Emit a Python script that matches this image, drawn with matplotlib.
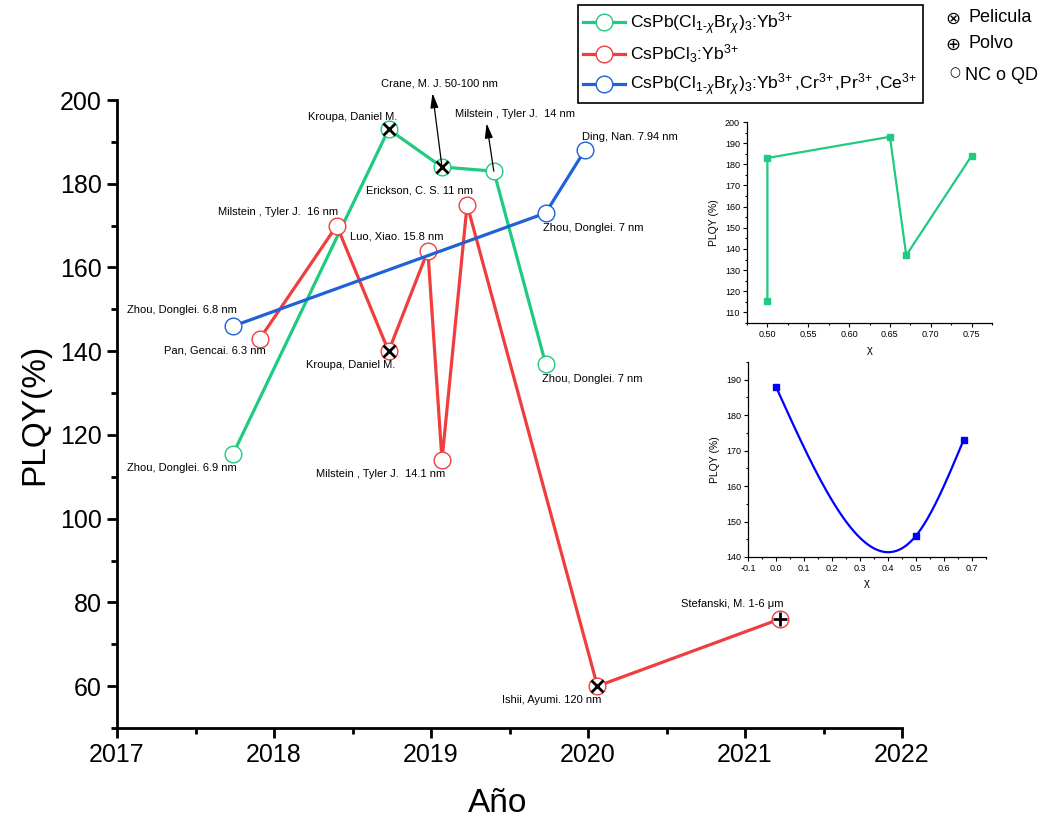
import numpy as np
import matplotlib
matplotlib.use('Agg')
import matplotlib.pyplot as plt
from matplotlib.ticker import MultipleLocator, FormatStrFormatter

plt.rcParams['font.family'] = ['Liberation Sans', 'DejaVu Sans']
plt.rcParams['mathtext.fontset'] = 'custom'
plt.rcParams['mathtext.rm'] = 'Liberation Sans'
plt.rcParams['mathtext.it'] = 'Liberation Sans:italic'
plt.rcParams['mathtext.bf'] = 'Liberation Sans:bold'

# CsPb(Cl1-xBrx)3:Yb3+
green_year = [2017.74, 2018.73, 2019.07, 2019.40, 2019.73]
green_plqy = [115.5, 193, 184, 183, 137]
green_chi = [0.50, 0.65, 0.75, 0.50, 0.67]
green_kind = ['nc', 'film', 'film', 'nc', 'nc']
green_notes = ['Zhou, Donglei. 6.9 nm', 'Kroupa, Daniel M.', 'Crane, M. J. 50-100 nm',
               'Milstein , Tyler J.  14 nm', 'Zhou, Donglei. 7 nm']

# CsPbCl3:Yb3+
red_year = [2017.91, 2018.40, 2018.73, 2018.98, 2019.07, 2019.23, 2020.06, 2021.22]
red_plqy = [143, 170, 140, 164, 114, 175, 60, 76]
red_kind = ['nc', 'nc', 'film', 'nc', 'nc', 'nc', 'film', 'powder']
red_notes = ['Pan, Gencai. 6.3 nm', 'Milstein , Tyler J.  16 nm', 'Kroupa, Daniel M.',
             'Luo, Xiao. 15.8 nm', 'Milstein , Tyler J.  14.1 nm', 'Erickson, C. S. 11 nm',
             'Ishii, Ayumi. 120 nm', 'Stefanski, M. 1-6 μm']

# CsPb(Cl1-xBrx)3:Yb3+,Cr3+,Pr3+,Ce3+
blue_year = [2017.74, 2019.73, 2019.98]
blue_plqy = [146, 173, 188]
blue_chi = [0.50, 0.67, 0.0]
blue_notes = ['Zhou, Donglei. 6.8 nm', 'Zhou, Donglei. 7 nm', 'Ding, Nan. 7.94 nm']

labels = [r'CsPb(Cl$_{1‐χ}$Br$_{χ}$)$_3$:Yb$^{3\!+}$',
          r'CsPbCl$_3$:Yb$^{3\!+}$',
          r'CsPb(Cl$_{1‐χ}$Br$_{χ}$)$_3$:Yb$^{3\!+}$,Cr$^{3\!+}$,Pr$^{3\!+}$,Ce$^{3\!+}$']

GREEN = '#1fcb80'
RED = '#f03e3e'
BLUE = '#1f62d6'

# label offsets in pixels (dx, dy) for each point
green_off = [(-51, -14), (-36, 12), (-3, 83), (21, 57), (47, -15)]
red_off = [(-45, -12), (-59, 14), (-38, -14), (-31, 14), (-61, -14), (-48, 14), (-46, -14), (-47, 15)]
blue_off = [(-51, 16), (48, -15), (45, 13)]
arrow_relpos = {2: 0.44, 3: 0.26}


def natural_spline(x, y, n=200):
    x = np.asarray(x, float)
    y = np.asarray(y, float)
    o = np.argsort(x)
    x, y = x[o], y[o]
    k = len(x)
    h = np.diff(x)
    A = np.zeros((k, k))
    r = np.zeros(k)
    A[0, 0] = A[-1, -1] = 1
    for i in range(1, k - 1):
        A[i, i - 1] = h[i - 1]
        A[i, i] = 2 * (h[i - 1] + h[i])
        A[i, i + 1] = h[i]
        r[i] = 6 * ((y[i + 1] - y[i]) / h[i] - (y[i] - y[i - 1]) / h[i - 1])
    M = np.linalg.solve(A, r)
    xs = np.linspace(x[0], x[-1], n)
    j = np.clip(np.searchsorted(x, xs) - 1, 0, k - 2)
    t0 = x[j + 1] - xs
    t1 = xs - x[j]
    hj = h[j]
    ys = (M[j] * t0**3 + M[j + 1] * t1**3) / (6 * hj) \
        + (y[j] / hj - M[j] * hj / 6) * t0 + (y[j + 1] / hj - M[j + 1] * hj / 6) * t1
    return xs, ys


fig = plt.figure(figsize=(10.46, 8.25), dpi=100)
ax = fig.add_axes([117 / 1046, 1 - 728 / 825, 785 / 1046, 628 / 825])

handles = []
for yr, pq, col in [(green_year, green_plqy, GREEN), (red_year, red_plqy, RED), (blue_year, blue_plqy, BLUE)]:
    h, = ax.plot(yr, pq, '-o', color=col, lw=2.3, ms=12, mfc='white', mec=col, mew=1.0, zorder=3)
    handles.append(h)

# film / powder symbols
for yr, pq, kinds in [(green_year, green_plqy, green_kind), (red_year, red_plqy, red_kind)]:
    for x, y, k in zip(yr, pq, kinds):
        if k == 'film':
            ax.plot(x, y, 'x', color='k', ms=8, mew=2.0, zorder=4)
        elif k == 'powder':
            ax.plot(x, y, '+', color='k', ms=10, mew=2.0, zorder=4)

for yr, pq, notes, offs in [(green_year, green_plqy, green_notes, green_off),
                            (red_year, red_plqy, red_notes, red_off),
                            (blue_year, blue_plqy, blue_notes, blue_off)]:
    for i, (x, y, t, o) in enumerate(zip(yr, pq, notes, offs)):
        ap = None
        if notes is green_notes and i in arrow_relpos:
            ap = dict(arrowstyle='<|-,head_length=1.1,head_width=0.3', color='k', lw=0.9,
                      relpos=(arrow_relpos[i], 0), shrinkA=1, shrinkB=0)
        ax.annotate(t, (x, y), xytext=o, textcoords='offset pixels', ha='center', va='center',
                    fontsize=8, arrowprops=ap, annotation_clip=False, zorder=5)

ax.set_xlim(2017, 2022)
ax.set_ylim(50, 200)
ax.xaxis.set_major_locator(MultipleLocator(1))
ax.xaxis.set_minor_locator(MultipleLocator(0.5))
ax.xaxis.set_major_formatter(FormatStrFormatter('%d'))
ax.yaxis.set_major_locator(MultipleLocator(20))
ax.yaxis.set_minor_locator(MultipleLocator(10))
for s in ['top', 'right']:
    ax.spines[s].set_visible(False)
for s in ['left', 'bottom']:
    ax.spines[s].set_linewidth(2)
ax.tick_params(which='major', direction='out', length=7, width=2, labelsize=18, pad=4)
ax.tick_params(which='minor', direction='out', length=4, width=2)
ax.set_xlabel('Año', fontsize=24)
ax.set_ylabel('PLQY(%)', fontsize=24)
ax.xaxis.set_label_coords(0.485, -0.095)
ax.yaxis.set_label_coords(-0.085, 0.5)

leg = fig.legend(handles, labels, loc='upper left', bbox_to_anchor=(578 / 1046, 1 - 5 / 825),
                 fontsize=12.6, frameon=True, fancybox=False, edgecolor='k', framealpha=1,
                 handlelength=2.4, handletextpad=0.3, borderpad=0.3, labelspacing=0.35,
                 borderaxespad=0, numpoints=1)
leg.get_frame().set_linewidth(1.2)

fig.text(953 / 1046, 1 - 19 / 825, '⊗', fontsize=13, family='DejaVu Sans', va='center', ha='center')
fig.text(968 / 1046, 1 - 18 / 825, 'Pelicula', fontsize=13, va='center')
fig.text(953 / 1046, 1 - 45 / 825, '⊕', fontsize=13, family='DejaVu Sans', va='center', ha='center')
fig.text(968 / 1046, 1 - 44 / 825, 'Polvo', fontsize=13, va='center')
fig.text(955 / 1046, 1 - 73 / 825, '○', fontsize=9, family='DejaVu Sans', va='center', ha='center')
fig.text(965 / 1046, 1 - 75 / 825, 'NC o QD', fontsize=13, va='center')

# inset: green vs chi
o = np.argsort(green_chi, kind='stable')
ax1 = fig.add_axes([747 / 1046, 1 - 323 / 825, 245 / 1046, 201 / 825])
ax1.plot(np.array(green_chi)[o], np.array(green_plqy)[o], '-s', color=GREEN, lw=1.6, ms=4)
ax1.set_xlim(0.475, 0.775)
ax1.set_ylim(105, 200)
ax1.xaxis.set_major_locator(MultipleLocator(0.05))
ax1.xaxis.set_minor_locator(MultipleLocator(0.025))
ax1.xaxis.set_major_formatter(FormatStrFormatter('%.2f'))
ax1.yaxis.set_major_locator(MultipleLocator(10))
ax1.yaxis.set_minor_locator(MultipleLocator(5))
ax1.set_xlabel('χ', fontsize=8)
ax1.set_ylabel('PLQY (%)', fontsize=7.5)

# inset: blue vs chi
ax2 = fig.add_axes([748 / 1046, 1 - 557 / 825, 238 / 1046, 195 / 825])
sx, sy = natural_spline(blue_chi, blue_plqy)
ax2.plot(sx, sy, color='#0000ff', lw=1.6)
ax2.plot(blue_chi, blue_plqy, 's', color='#0000ff', ms=4)
ax2.set_xlim(-0.1, 0.75)
ax2.set_ylim(140, 195)
ax2.xaxis.set_major_locator(MultipleLocator(0.1))
ax2.xaxis.set_minor_locator(MultipleLocator(0.05))
ax2.xaxis.set_major_formatter(FormatStrFormatter('%.1f'))
ax2.yaxis.set_major_locator(MultipleLocator(10))
ax2.yaxis.set_minor_locator(MultipleLocator(5))
ax2.set_xlabel('χ', fontsize=8)
ax2.set_ylabel('PLQY (%)', fontsize=7.5)

for a in (ax1, ax2):
    for s in ['top', 'right']:
        a.spines[s].set_visible(False)
    for s in ['left', 'bottom']:
        a.spines[s].set_linewidth(0.9)
    a.tick_params(which='major', direction='out', length=3, width=0.8, labelsize=6.5, pad=2)
    a.tick_params(which='minor', direction='out', length=1.5, width=0.8)
    a.patch.set_alpha(0)

fig.savefig('out.png', dpi=100)
